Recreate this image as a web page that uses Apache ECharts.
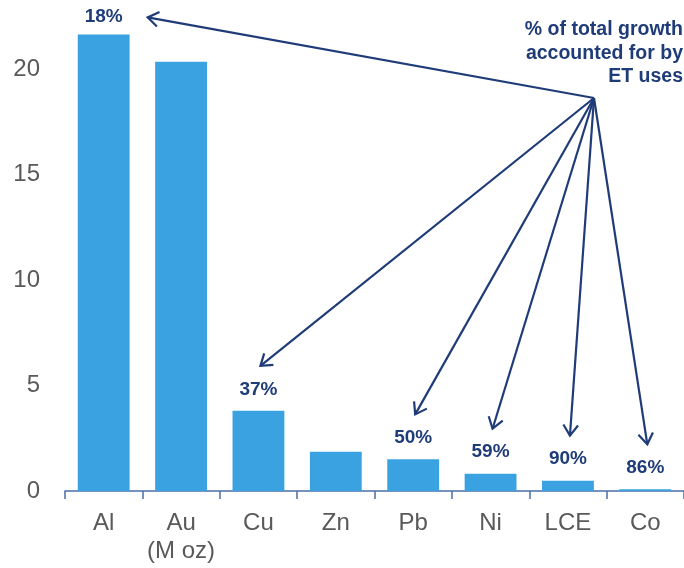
<!DOCTYPE html>
<html>
<head>
<meta charset="utf-8">
<script src="https://cdn.jsdelivr.net/npm/echarts@6/dist/echarts.min.js"></script>
<style>
  html, body { margin: 0; padding: 0; background: #fff; }
  #chart { width: 684px; height: 568px; }
</style>
</head>
<body>
<div id="chart"></div>
<script>
// metals, demand growth
const categories = ['Al', 'Au\n(M oz)', 'Cu', 'Zn', 'Pb', 'Ni', 'LCE', 'Co']
const growth = [21.65, 20.35, 3.8, 1.86, 1.5, 0.82, 0.49, 0.08]
// share of growth from ET uses ('' = no label)
const etShare = ['18%', '', '37%', '', '50%', '59%', '90%', '86%']
const yTicks = [0, 5, 10, 15, 20]

const navy = '#1f3c78'
const grey = '#595959'

let chart = echarts.init(document.getElementById('chart'))

let option = {
    animation: false,
    grid: { left: 65, right: -7, top: 27, bottom: 77 },
    xAxis: {
        type: 'category',
        data: categories,
        axisLine: { lineStyle: { color: '#4a6da6', width: 1.5 } },
        axisTick: { show: true, length: 8, lineStyle: { color: '#4a6da6', width: 1.5 } },
        axisLabel: {
            interval: 0,
            color: grey,
            fontFamily: 'Liberation Sans',
            fontSize: 24,
            lineHeight: 28,
            margin: 18
        }
    },
    yAxis: {
        type: 'value',
        min: 0,
        max: 22,
        interval: 5,
        axisLine: { show: false },
        axisTick: { show: false },
        splitLine: { show: false },
        axisLabel: {
            color: grey,
            fontFamily: 'Liberation Sans',
            fontSize: 24,
            margin: 25,
            formatter: v => (yTicks.indexOf(v) >= 0 ? String(v) : '')
        }
    },
    series: [
        {
            type: 'bar',
            barWidth: '67%',
            itemStyle: { color: '#3aa2e0' },
            data: growth.map((v, i) => ({
                value: v,
                label: { distance: i === 0 ? 8 : 12 }
            })),
            label: {
                show: true,
                position: 'top',
                color: navy,
                fontFamily: 'Liberation Sans',
                fontWeight: 'bold',
                fontSize: 19,
                formatter: p => etShare[p.dataIndex]
            }
        }
    ]
}
chart.setOption(option)

// arrows from one hub to each labelled bar
const hub = [594, 98]
let graphics = [
    {
        type: 'text',
        x: 683,
        y: 18,
        style: {
            text: '% of total growth\naccounted for by\nET uses',
            align: 'right',
            verticalAlign: 'top',
            fill: navy,
            font: 'bold 19.5px "Liberation Sans"',
            lineHeight: 23.5
        }
    }
]
etShare.forEach((s, i) => {
    if (!s) return
    let p = chart.convertToPixel({ seriesIndex: 0 }, [i, growth[i]])
    let tip = i === 0 ? [p[0] + 44, p[1] - 17] : [p[0] + 2, p[1] - 45]
    let a = Math.atan2(hub[1] - tip[1], hub[0] - tip[0])
    let len = 13, spread = 0.6
    let w1 = [tip[0] + len * Math.cos(a + spread), tip[1] + len * Math.sin(a + spread)]
    let w2 = [tip[0] + len * Math.cos(a - spread), tip[1] + len * Math.sin(a - spread)]
    graphics.push({
        type: 'line',
        shape: { x1: hub[0], y1: hub[1], x2: tip[0], y2: tip[1] },
        style: { stroke: navy, lineWidth: 2.2 }
    })
    graphics.push({
        type: 'polyline',
        shape: { points: [w1, tip, w2] },
        style: { stroke: navy, lineWidth: 2.2, fill: null }
    })
})
chart.setOption({ graphic: graphics })
</script>
</body>
</html>
